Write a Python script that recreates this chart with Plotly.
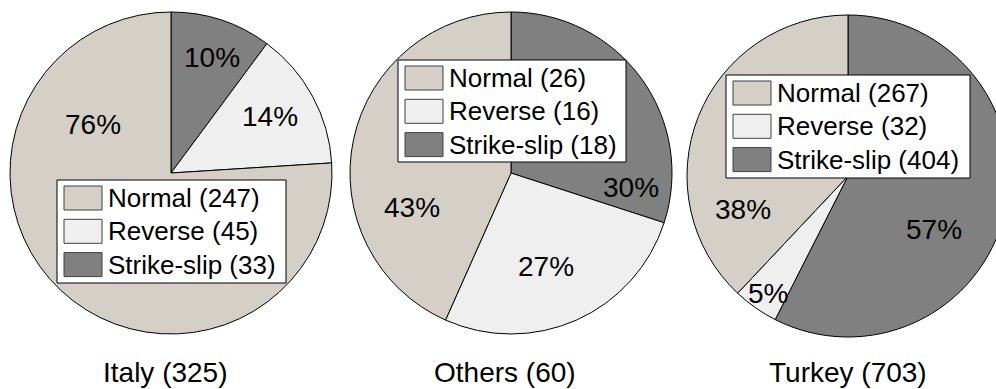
import plotly.graph_objects as go

# ---------------- data ----------------
regions = ["Italy", "Others", "Turkey"]
mechanisms = ["Normal", "Reverse", "Strike-slip"]
italy_counts = [247, 45, 33]
others_counts = [26, 16, 18]
turkey_counts = [267, 32, 404]
mech_colors = ["#d4d0c8", "#efefef", "#808080"]

# ---------------- layout helpers ----------------
W, H = 1010, 389          # page is viewed through a 996 px window (right side clipped like the reference)
FONT = "Liberation Sans, Arial, Helvetica, sans-serif"


def px(x, y):
    return x / W, 1 - y / H


# pie geometry (center x, center y, radius) in pixels
pie_geom = {
    "Italy": (171, 173, 161),
    "Others": (511, 173, 161),
    "Turkey": (848, 176, 161),
}
# legend box (left, top, right, bottom) in pixels
legend_box = {
    "Italy": (57, 180, 286, 283),
    "Others": (398, 60, 626, 162),
    "Turkey": (726, 75, 970, 178),
}
# percentage label centres, in mechanism order
pct_pos = {
    "Italy": [(93, 125), (270, 116), (212, 57)],
    "Others": [(412, 207), (546, 266), (631, 187)],
    "Turkey": [(743, 209), (768, 293), (934, 229)],
}
title_pos = {"Italy": (165, 372), "Others": (505, 372), "Turkey": (848, 372)}

counts = {"Italy": italy_counts, "Others": others_counts, "Turkey": turkey_counts}

fig = go.Figure()
shapes = []
annotations = []

for reg in regions:
    vals = counts[reg]
    total = sum(vals)
    cx, cy, r = pie_geom[reg]
    x0, ytop = px(cx - r, cy - r)
    x1, ybot = px(cx + r, cy + r)
    # clockwise from 12 o'clock: Strike-slip, Reverse, Normal
    fig.add_trace(
        go.Pie(
            labels=mechanisms[::-1],
            values=vals[::-1],
            sort=False,
            direction="clockwise",
            rotation=0,
            textinfo="none",
            marker=dict(colors=mech_colors[::-1], line=dict(color="#000000", width=1)),
            domain=dict(x=[max(0, x0), min(1, x1)], y=[ybot, ytop]),
            showlegend=False,
            name=reg,
        )
    )
    # percentage labels
    for v, (lx, ly) in zip(vals, pct_pos[reg]):
        ax, ay = px(lx, ly)
        annotations.append(
            dict(
                x=ax, y=ay, xref="paper", yref="paper",
                text=f"{round(100 * v / total)}%",
                showarrow=False, xanchor="center", yanchor="middle",
                font=dict(family=FONT, size=28, color="#000000"),
            )
        )
    # title
    tx, ty = px(*title_pos[reg])
    annotations.append(
        dict(
            x=tx, y=ty, xref="paper", yref="paper",
            text=f"{reg} ({total})",
            showarrow=False, xanchor="center", yanchor="middle",
            font=dict(family=FONT, size=28, color="#000000"),
        )
    )
    # legend box
    bl, bt, br, bb = legend_box[reg]
    shapes.append(
        dict(
            type="rect", xref="paper", yref="paper",
            x0=bl / W, x1=br / W, y0=1 - bb / H, y1=1 - bt / H,
            fillcolor="#ffffff", line=dict(color="#000000", width=1), layer="above",
        )
    )
    for i, (m, c, v) in enumerate(zip(mechanisms, mech_colors, vals)):
        st = bt + 6 + i * 33.3
        shapes.append(
            dict(
                type="rect", xref="paper", yref="paper",
                x0=(bl + 7) / W, x1=(bl + 45) / W,
                y0=1 - (st + 24) / H, y1=1 - st / H,
                fillcolor=c, line=dict(color="#404040", width=1), layer="above",
            )
        )
        lx, ly = px(bl + 49, st + 12)
        annotations.append(
            dict(
                x=lx, y=ly, xref="paper", yref="paper",
                text=f"{m} ({v})",
                showarrow=False, xanchor="left", yanchor="middle",
                font=dict(family=FONT, size=26, color="#000000"),
            )
        )

fig.update_layout(
    width=W, height=H,
    margin=dict(l=0, r=0, t=0, b=0),
    paper_bgcolor="#ffffff",
    plot_bgcolor="#ffffff",
    shapes=shapes,
    annotations=annotations,
    font=dict(family=FONT),
)

fig.write_html(
    "out.html",
    config={"displayModeBar": False},
    post_script="document.body.style.margin='0';document.body.style.overflow='hidden';",
)
